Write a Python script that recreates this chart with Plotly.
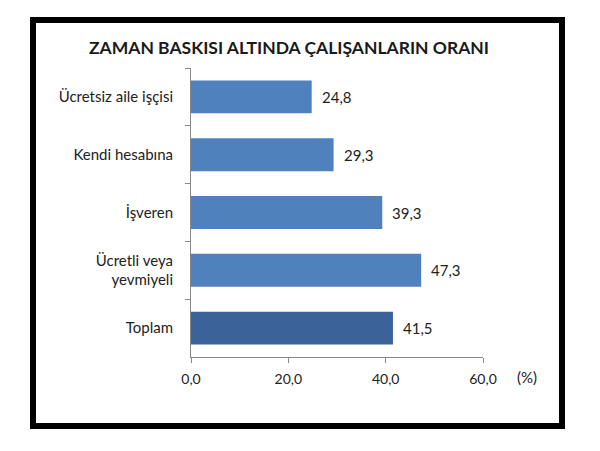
import plotly.graph_objects as go

CATEGORIES = ["Ücretsiz aile işçisi", "Kendi hesabına", "İşveren",
              "Ücretli veya<br>yevmiyeli", "Toplam"]
VALUES = [24.8, 29.3, 39.3, 47.3, 41.5]
BAR_COLORS = ["#4F81BD", "#4F81BD", "#4F81BD", "#4F81BD", "#3C6399"]
X_TICKS = [0, 20, 40, 60]
TITLE = "ZAMAN BASKISI ALTINDA ÇALIŞANLARIN ORANI"

OFF = 8  # page body margin
W, H = 600 - OFF, 451 - OFF
L, R, T, B = 191 - OFF, 483 - OFF, 68 - OFF, 357 - OFF  # plot area in pixels
FONT = "Lato, 'Open Sans', sans-serif"


def px_x(p):
    return (p - OFF - L) / (R - L)


def px_y(p):
    return (B - (p - OFF)) / (B - T)


fig = go.Figure()
fig.add_trace(go.Bar(
    x=VALUES, y=CATEGORIES, orientation="h",
    marker=dict(color=BAR_COLORS, line=dict(width=0)),
    width=0.57,
    showlegend=False,
    hoverinfo="x+y",
))

for v, c in zip(VALUES, CATEGORIES):
    fig.add_annotation(x=v, y=c, text=f"{v:.1f}".replace(".", ","),
                       xanchor="left", xshift=8, showarrow=False,
                       font=dict(size=15, color="#222", family=FONT))

fig.add_annotation(xref="paper", yref="paper", x=px_x(515), y=px_y(377),
                   text="(%)", xanchor="left", yanchor="middle", showarrow=False,
                   font=dict(size=15, color="#222", family=FONT))

# thick black frame
fig.add_shape(type="rect", xref="paper", yref="paper",
              x0=px_x(33), x1=px_x(562), y0=px_y(426), y1=px_y(20),
              line=dict(color="black", width=6), layer="above")

fig.update_layout(
    width=W, height=H,
    margin=dict(l=L, r=W - R, t=T, b=H - B),
    paper_bgcolor="white", plot_bgcolor="white",
    separators=",.",
    font=dict(family=FONT, size=14, color="#222"),
    title=dict(text=f"<b>{TITLE}</b>", xref="paper", x=px_x(289), xanchor="center",
               yref="container", y=1 - (48 - OFF) / H, yanchor="middle",
               font=dict(size=17.5, color="#1a1a1a", family=FONT)),
    bargap=0.43,
)
fig.update_xaxes(range=[0, 60], tickvals=X_TICKS, tickformat=".1f",
                 showgrid=False, zeroline=False, showline=True,
                 linecolor="#888", linewidth=1, ticks="outside",
                 ticklen=5, tickcolor="#888", ticklabelstandoff=4,
                 tickfont=dict(size=14, color="#222"))
fig.update_yaxes(categoryorder="array", categoryarray=CATEGORIES,
                 autorange="reversed", showgrid=False, showline=True,
                 linecolor="#888", linewidth=1, ticks="outside",
                 tickson="boundaries", ticklen=5, tickcolor="#888",
                 ticklabelstandoff=14,
                 tickfont=dict(size=15, color="#222"))

fig.write_html("out.html")
